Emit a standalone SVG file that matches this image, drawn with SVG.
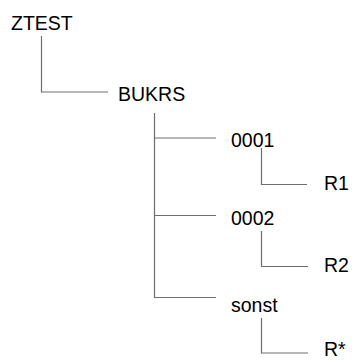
<svg xmlns="http://www.w3.org/2000/svg" width="352" height="360" viewBox="0 0 352 360">
<style>
text{font-family:"Liberation Sans",Arial,sans-serif;font-size:19.5px;fill:#000}
.c path{fill:none;stroke:#6e6e6e;stroke-width:1.2}
</style>
<rect width="352" height="360" fill="#fff"/>
<g class="c" id="connectors">
<path d="M41.5,36V92H108"/>
<path d="M154.5,113V297.5H216"/>
<path d="M154.5,138H216"/>
<path d="M154.5,215.5H216"/>
<path d="M261.5,148V184.5H307"/>
<path d="M261.5,231V266.5H308"/>
<path d="M261.5,318V353H308"/>
</g>
<g id="ZTEST"><text x="11" y="30">ZTEST</text></g>
<g id="BUKRS"><text x="118" y="101">BUKRS</text></g>
<g id="n0001"><text x="231" y="147">0001</text></g>
<g id="n0002"><text x="231" y="225">0002</text></g>
<g id="sonst"><text x="231" y="312">sonst</text></g>
<g id="R1"><text x="324" y="190">R1</text></g>
<g id="R2"><text x="324" y="272">R2</text></g>
<g id="Rstar"><text x="324" y="356">R*</text></g>
</svg>
